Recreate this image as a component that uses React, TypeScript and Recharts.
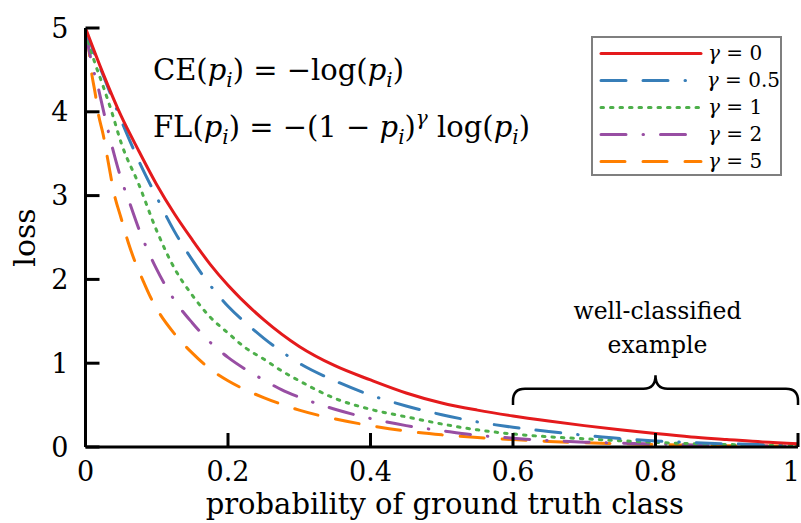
import React from 'react';
import { LineChart, Line, XAxis, YAxis, Legend, ReferenceArea } from 'recharts';

const xTicks = [0, 0.2, 0.4, 0.6, 0.8, 1];
const xTickLabels = ['0', '0.2', '0.4', '0.6', '0.8', '1'];
const yTicks = [0, 1, 2, 3, 4, 5];
const yTickLabels = ['0', '1', '2', '3', '4', '5'];
const gammaLabels = ['0', '0.5', '1', '2', '5'];

const pGamma0 = [0, 0.025, 0.05, 0.075, 0.1, 0.125, 0.15, 0.175, 0.2, 0.25, 0.3, 0.35, 0.4, 0.45, 0.5, 0.55, 0.6, 0.65, 0.7, 0.75, 0.8, 0.85, 0.9, 0.95, 1];
const lossGamma0 = [5.0, 4.45, 3.95, 3.53, 3.13, 2.78, 2.47, 2.18, 1.93, 1.52, 1.2, 0.97, 0.8, 0.645, 0.525, 0.44, 0.37, 0.31, 0.255, 0.205, 0.16, 0.12, 0.09, 0.06, 0.04];

const pGamma05 = [0, 0.025, 0.05, 0.075, 0.1, 0.125, 0.15, 0.175, 0.2, 0.225, 0.25, 0.275, 0.3, 0.35, 0.4, 0.45, 0.5, 0.55, 0.6, 0.65, 0.7, 0.75, 0.8, 0.85, 0.9, 0.95, 1];
const lossGamma05 = [4.97, 4.43, 3.9, 3.41, 2.98, 2.57, 2.23, 1.93, 1.68, 1.48, 1.3, 1.14, 1.0, 0.79, 0.62, 0.49, 0.385, 0.3, 0.235, 0.185, 0.14, 0.1, 0.072, 0.053, 0.038, 0.028, 0.02];

const pGamma1 = [0, 0.0125, 0.025, 0.0375, 0.05, 0.075, 0.1, 0.125, 0.15, 0.175, 0.2, 0.225, 0.25, 0.275, 0.3, 0.35, 0.4, 0.45, 0.5, 0.55, 0.6, 0.65, 0.7, 0.75, 0.8, 0.85, 0.9, 0.95, 1];
const lossGamma1 = [4.95, 4.6, 4.3, 3.98, 3.63, 3.13, 2.58, 2.13, 1.81, 1.55, 1.36, 1.18, 1.05, 0.91, 0.79, 0.58, 0.45, 0.36, 0.275, 0.205, 0.155, 0.122, 0.098, 0.075, 0.055, 0.04, 0.03, 0.02, 0.015];

const pGamma2 = [0, 0.0105, 0.0175, 0.025, 0.0375, 0.05, 0.0625, 0.075, 0.1, 0.125, 0.15, 0.175, 0.2, 0.225, 0.25, 0.275, 0.3, 0.35, 0.4, 0.45, 0.5, 0.55, 0.6, 0.65, 0.7, 0.75, 0.8, 0.85, 0.9, 0.95, 1];
const lossGamma2 = [4.95, 4.52, 4.3, 4.02, 3.58, 3.2, 2.9, 2.6, 2.12, 1.75, 1.48, 1.25, 1.07, 0.925, 0.8, 0.685, 0.595, 0.45, 0.34, 0.255, 0.195, 0.14, 0.105, 0.077, 0.058, 0.045, 0.035, 0.025, 0.018, 0.013, 0.01];

const pGamma5 = [0, 0.004, 0.008, 0.014, 0.0175, 0.025, 0.0325, 0.04, 0.05, 0.06, 0.07, 0.08, 0.09, 0.1, 0.125, 0.15, 0.175, 0.2, 0.225, 0.25, 0.275, 0.3, 0.35, 0.4, 0.45, 0.5, 0.55, 0.6, 0.65, 0.7, 0.75, 0.8, 0.85, 0.9, 0.95, 1];
const lossGamma5 = [4.95, 4.8, 4.5, 4.2, 4.0, 3.72, 3.37, 3.03, 2.73, 2.44, 2.2, 2.0, 1.81, 1.65, 1.35, 1.12, 0.93, 0.79, 0.68, 0.59, 0.51, 0.44, 0.335, 0.255, 0.19, 0.145, 0.113, 0.088, 0.066, 0.05, 0.04, 0.03, 0.022, 0.016, 0.012, 0.01];

const toRows = (ps: number[], ls: number[]) => ps.map((p, i) => ({ p, loss: ls[i] }));

const FONT = "'DejaVu Serif', serif";

const series = [
  { key: 'g0', label: gammaLabels[0], rows: toRows(pGamma0, lossGamma0), color: '#e41a1c', dash: undefined as string | undefined },
  { key: 'g05', label: gammaLabels[1], rows: toRows(pGamma05, lossGamma05), color: '#377eb8', dash: '25 17 25 17 0.5 17' },
  { key: 'g1', label: gammaLabels[2], rows: toRows(pGamma1, lossGamma1), color: '#4daf4a', dash: '2.5 7' },
  { key: 'g2', label: gammaLabels[3], rows: toRows(pGamma2, lossGamma2), color: '#984ea3', dash: '25 17 0.5 17' },
  { key: 'g5', label: gammaLabels[4], rows: toRows(pGamma5, lossGamma5), color: '#ff7f00', dash: '24 18' },
];

const XTick = (props: any) => {
  const { x, y, index } = props;
  const last = index === xTicks.length - 1;
  return (
    <g>
      <line x1={x} x2={x} y1={y} y2={y - 14} stroke="#000" strokeWidth={3} />
      <text x={last ? 800 : x} y={y + 34} textAnchor={last ? 'end' : 'middle'} fontFamily={FONT} fontSize={27} fill="#000">
        {xTickLabels[index]}
      </text>
    </g>
  );
};

const YTick = (props: any) => {
  const { x, y, index } = props;
  return (
    <g>
      <line x1={x} x2={x + 14} y1={y} y2={y} stroke="#000" strokeWidth={3} />
      <text x={x - 17} y={y + 9.5} textAnchor="end" fontFamily={FONT} fontSize={27} fill="#000">
        {yTickLabels[index]}
      </text>
    </g>
  );
};

const XLabel = (props: any) => {
  const vb = props.viewBox || { x: 85.5, y: 447, width: 712.5, height: 76 };
  return (
    <text x={vb.x + vb.width / 2 + 3} y={vb.y + 67} textAnchor="middle" fontFamily={FONT} fontSize={29} fill="#000">
      probability of ground truth class
    </text>
  );
};

const YLabel = (props: any) => {
  const vb = props.viewBox || { x: 0, y: 28, width: 85.5, height: 419 };
  const cx = 24;
  const cy = vb.y + vb.height / 2;
  return (
    <text x={cx} y={cy} transform={`rotate(-90, ${cx}, ${cy})`} textAnchor="middle" dominantBaseline="central" fontFamily={FONT} fontSize={30} fill="#000">
      loss
    </text>
  );
};

const Brace = (props: any) => {
  const { x, y, width, height } = props;
  const L = x;
  const R = x + width;
  const T = y;
  const B = y + height;
  const M = (L + R) / 2;
  const H = T + 13.5;
  const r = 12;
  const d = `M ${L} ${B} L ${L} ${H + r} Q ${L} ${H} ${L + r} ${H} L ${M - r} ${H} Q ${M} ${H} ${M} ${T} Q ${M} ${H} ${M + r} ${H} L ${R - r} ${H} Q ${R} ${H} ${R} ${H + r} L ${R} ${B}`;
  return (
    <g>
      <path d={d} fill="none" stroke="#000" strokeWidth={2.5} />
      <text x={M + 2} y={T - 56} textAnchor="middle" fontFamily={FONT} fontSize={23.5} fill="#000">well-classified</text>
      <text x={M + 2} y={T - 22} textAnchor="middle" fontFamily={FONT} fontSize={23.5} fill="#000">example</text>
    </g>
  );
};

const renderLegend = () => (
  <div style={{ width: 191, height: 140, border: '2px solid #7f7f7f', boxSizing: 'border-box', background: '#fff', paddingTop: 1.5 }}>
    {series.map((s) => (
      <div key={s.key} style={{ height: 27.2, display: 'flex', alignItems: 'center' }}>
        <svg width={113} height={27} style={{ display: 'block' }}>
          <line x1={8} x2={108} y1={13.5} y2={13.5} stroke={s.color} strokeWidth={3} strokeDasharray={s.dash} strokeLinecap="round" />
        </svg>
        <span style={{ fontFamily: FONT, fontSize: 20, marginLeft: 2, color: '#000', whiteSpace: 'pre', lineHeight: '27px' }}>
          <span style={{ fontStyle: 'italic' }}>γ</span>{' = '}{s.label}
        </span>
      </div>
    ))}
  </div>
);

export default function App() {
  return (
    <div style={{ position: 'absolute', left: 0, top: 0, width: 801, height: 523, background: '#fff', overflow: 'hidden' }}>
      <LineChart width={801} height={523} margin={{ top: 28, right: 3, bottom: 0, left: 0 }}>
        <XAxis
          type="number"
          dataKey="p"
          domain={[0, 1]}
          ticks={xTicks}
          interval={0}
          tick={(p: any) => <XTick {...p} />}
          tickLine={false}
          tickSize={0}
          tickMargin={0}
          axisLine={{ stroke: '#000', strokeWidth: 3 }}
          height={76}
          label={{ content: (p: any) => <XLabel {...p} /> }}
          allowDataOverflow
        />
        <YAxis
          type="number"
          domain={[0, 5]}
          ticks={yTicks}
          interval={0}
          tick={(p: any) => <YTick {...p} />}
          tickLine={false}
          tickSize={0}
          tickMargin={0}
          axisLine={{ stroke: '#000', strokeWidth: 3 }}
          width={85.5}
          label={{ content: (p: any) => <YLabel {...p} /> }}
          allowDataOverflow
        />
        <ReferenceArea x1={0.6} x2={1} y1={0.5} y2={0.855} shape={(p: any) => <Brace {...p} />} ifOverflow="visible" />
        {[...series].reverse().map((s) => (
          <Line
            key={s.key}
            data={s.rows}
            dataKey="loss"
            name={s.key}
            type="monotone"
            stroke={s.color}
            strokeWidth={3}
            strokeDasharray={s.dash}
            strokeLinecap="round"
            dot={false}
            activeDot={false}
            isAnimationActive={false}
            legendType="line"
          />
        ))}
        <Legend
          layout="vertical"
          align="center"
          verticalAlign="middle"
          content={renderLegend}
          wrapperStyle={{ position: 'absolute', top: 36, left: 591, width: 191, height: 140 }}
        />
      </LineChart>
      <svg width={801} height={523} style={{ position: 'absolute', left: 0, top: 0, pointerEvents: 'none' }}>
        <text x={153} y={80} fontFamily={FONT} fontSize={29} fill="#000">
          <tspan>CE(</tspan>
          <tspan fontStyle="italic">p</tspan>
          <tspan fontStyle="italic" fontSize={20} dy={7}>i</tspan>
          <tspan dy={-7}>{') = −log('}</tspan>
          <tspan fontStyle="italic">p</tspan>
          <tspan fontStyle="italic" fontSize={20} dy={7}>i</tspan>
          <tspan dy={-7}>)</tspan>
        </text>
        <text x={153} y={137} fontFamily={FONT} fontSize={29} fill="#000">
          <tspan>FL(</tspan>
          <tspan fontStyle="italic">p</tspan>
          <tspan fontStyle="italic" fontSize={20} dy={7}>i</tspan>
          <tspan dy={-7}>{') = −(1 − '}</tspan>
          <tspan fontStyle="italic">p</tspan>
          <tspan fontStyle="italic" fontSize={20} dy={7}>i</tspan>
          <tspan dy={-7}>)</tspan>
          <tspan fontStyle="italic" fontSize={20} dy={-12}>γ</tspan>
          <tspan dy={12}>{' log('}</tspan>
          <tspan fontStyle="italic">p</tspan>
          <tspan fontStyle="italic" fontSize={20} dy={7}>i</tspan>
          <tspan dy={-7}>)</tspan>
        </text>
      </svg>
    </div>
  );
}
